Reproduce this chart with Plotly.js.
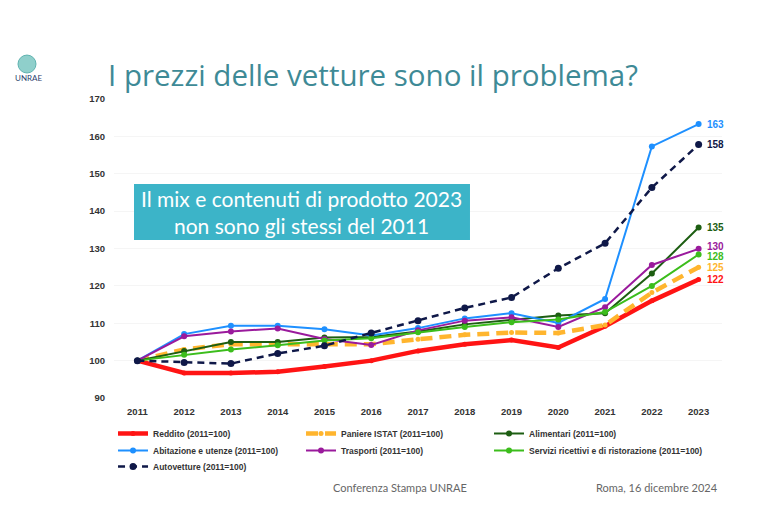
<!DOCTYPE html>
<html>
<head>
<meta charset="utf-8">
<script src="https://cdn.plot.ly/plotly-3.0.1.min.js"></script>
<style>
  html, body { margin: 0; padding: 0; background: #ffffff; }
  #chart { width: 774px; height: 516px; }
</style>
</head>
<body>
<div id="chart"></div>
<script>
// ---- data ----
const years = [2011, 2012, 2013, 2014, 2015, 2016, 2017, 2018, 2019, 2020, 2021, 2022, 2023];
const yearLabels = ["2011","2012","2013","2014","2015","2016","2017","2018","2019","2020","2021","2022","2023"];

const seriesNames = [
  "Reddito (2011=100)",
  "Paniere ISTAT (2011=100)",
  "Alimentari (2011=100)",
  "Abitazione e utenze (2011=100)",
  "Trasporti (2011=100)",
  "Servizi ricettivi e di ristorazione (2011=100)",
  "Autovetture (2011=100)"
];

const reddito      = [100, 96.7, 96.7, 97.0, 98.4, 100.0, 102.6, 104.4, 105.5, 103.5, 109.2, 116.0, 121.7];
const paniere      = [100, 103.0, 104.4, 104.5, 104.6, 104.4, 105.7, 106.9, 107.5, 107.4, 109.5, 118.2, 125.0];
const alimentari   = [100, 102.6, 105.0, 105.0, 106.2, 106.3, 107.8, 109.7, 110.8, 112.1, 112.7, 123.3, 135.6];
const abitazione   = [100, 107.1, 109.3, 109.3, 108.4, 106.7, 108.7, 111.3, 112.7, 110.1, 116.5, 157.3, 163.3];
const trasporti    = [100, 106.5, 107.8, 108.6, 105.8, 104.2, 108.1, 110.7, 111.6, 109.0, 114.3, 125.6, 129.9];
const servizi      = [100, 101.6, 103.0, 104.1, 105.4, 106.0, 107.6, 109.0, 110.3, 111.0, 113.0, 120.0, 128.4];
const autovetture  = [100, 99.5, 99.2, 101.9, 104.0, 107.4, 110.7, 114.1, 116.9, 124.7, 131.4, 146.3, 157.8];

const endLabels = ["122", "125", "135", "163", "130", "128", "158"];

// ---- styles ----
const seriesValues = [reddito, paniere, alimentari, abitazione, trasporti, servizi, autovetture];
const colors = ["#ff1414", "#ffb52e", "#1d5e12", "#1e90ff", "#9a1a9c", "#3cbd1c", "#0f1848"];
const widths = [4.5, 4.5, 2, 2, 2, 2, 2.5];
const dashes = ["solid", "12px,7px", "solid", "solid", "solid", "solid", "7px,5px"];
const markerSizes = [5, 5, 6, 6, 6, 6, 7];
const legendIds = ["legend", "legend", "legend", "legend2", "legend2", "legend2", "legend3"];
const legendWidths = [143, 143, 200, 143, 143, 200, 143];
const labelShifts = [0, 0, 0, 0, 2, -2, 0];

const traces = seriesValues.map((vals, i) => ({
  type: "scatter",
  mode: "lines+markers",
  x: years,
  y: vals,
  name: seriesNames[i],
  legend: legendIds[i],
  legendwidth: legendWidths[i],
  line: { color: colors[i], width: widths[i], dash: dashes[i] },
  marker: { color: colors[i], size: markerSizes[i] },
  hoverinfo: "x+y+name"
}));

const labelFont = "Liberation Sans, Arial, sans-serif";

const annotations = seriesValues.map((vals, i) => ({
  x: years[years.length - 1],
  y: vals[vals.length - 1],
  xref: "x", yref: "y",
  text: "<b>" + endLabels[i] + "</b>",
  showarrow: false,
  xanchor: "left",
  yanchor: "middle",
  xshift: 6,
  yshift: labelShifts[i],
  font: { family: labelFont, size: 10, color: colors[i] }
}));

annotations.push(
  {
    xref: "paper", yref: "paper", x: 0.309, y: 0.622,
    text: "Il mix e contenuti di prodotto 2023<br>non sono gli stessi del 2011",
    showarrow: false, xanchor: "center", yanchor: "middle", align: "center",
    font: { family: "Lato, 'Open Sans', sans-serif", size: 21, color: "#ffffff" }
  },
  {
    xref: "paper", yref: "paper", x: 0.4704, y: -0.2977,
    text: "Conferenza Stampa UNRAE",
    showarrow: false, xanchor: "center", yanchor: "middle",
    font: { family: "Lato, 'Open Sans', sans-serif", size: 11, color: "#666666" }
  },
  {
    xref: "paper", yref: "paper", x: 0.9975, y: -0.2977,
    text: "Roma, 16 dicembre 2024",
    showarrow: false, xanchor: "right", yanchor: "middle",
    font: { family: "Lato, 'Open Sans', sans-serif", size: 11, color: "#666666" }
  },
  {
    xref: "paper", yref: "paper", x: -0.1414, y: 1.0702,
    text: "UNRAE",
    showarrow: false, xanchor: "center", yanchor: "middle",
    font: { family: "Lato, sans-serif", size: 8, color: "#2b3f6e" }
  }
);

const legendFont = { family: "'Liberation Sans', Arial, sans-serif", size: 8.5, color: "#333333", weight: "bold" };
const legendBase = {
  orientation: "h",
  xanchor: "left",
  yanchor: "top",
  x: -0.0016,
  bgcolor: "rgba(0,0,0,0)",
  font: legendFont,
  entrywidth: 143,
  entrywidthmode: "pixels",
  itemclick: false,
  itemdoubleclick: false
};

const layout = {
  width: 774,
  height: 516,
  margin: { l: 114, r: 52, t: 99, b: 118 },
  paper_bgcolor: "#ffffff",
  plot_bgcolor: "#ffffff",
  showlegend: true,
  title: {
    text: "I prezzi delle vetture sono il problema?",
    x: 108 / 774, xanchor: "left", xref: "container",
    y: 1 - 76 / 516, yanchor: "middle", yref: "container",
    font: { family: "'Open Sans', Lato, sans-serif", size: 29.5, color: "#3e8a96" }
  },
  xaxis: {
    range: [2010.5, 2023.5],
    tickmode: "array",
    tickvals: years,
    ticktext: yearLabels,
    showgrid: false,
    zeroline: false,
    showline: false,
    ticks: "",
    ticklabelstandoff: 6,
    tickfont: { family: labelFont, size: 9.5, color: "#333333", weight: "bold" },
    fixedrange: true
  },
  yaxis: {
    range: [90, 170],
    tickvals: [90, 100, 110, 120, 130, 140, 150, 160, 170],
    showgrid: true,
    gridcolor: "#f5f5f5",
    zeroline: false,
    showline: false,
    ticks: "",
    ticklabelstandoff: 8,
    tickfont: { family: labelFont, size: 9.5, color: "#333333", weight: "bold" },
    fixedrange: true
  },
  legend: Object.assign({}, legendBase, { y: -0.0702 }),
  legend2: Object.assign({}, legendBase, { y: -0.1271 }),
  legend3: Object.assign({}, legendBase, { y: -0.1806 }),
  shapes: [
    {
      type: "rect", xref: "paper", yref: "paper",
      x0: 0.0329, x1: 0.5855, y0: 0.5284, y1: 0.7157,
      fillcolor: "#3cb4c8", line: { width: 0 }, layer: "above"
    },
    {
      type: "circle", xref: "paper", yref: "paper",
      x0: -0.1579, x1: -0.1283, y0: 1.087, y1: 1.147,
      fillcolor: "#8fcfcb", line: { color: "#5fb3b0", width: 1 }, layer: "above"
    }
  ],
  annotations: annotations
};

Plotly.newPlot("chart", traces, layout, { displayModeBar: false, staticPlot: true });
</script>
</body>
</html>
